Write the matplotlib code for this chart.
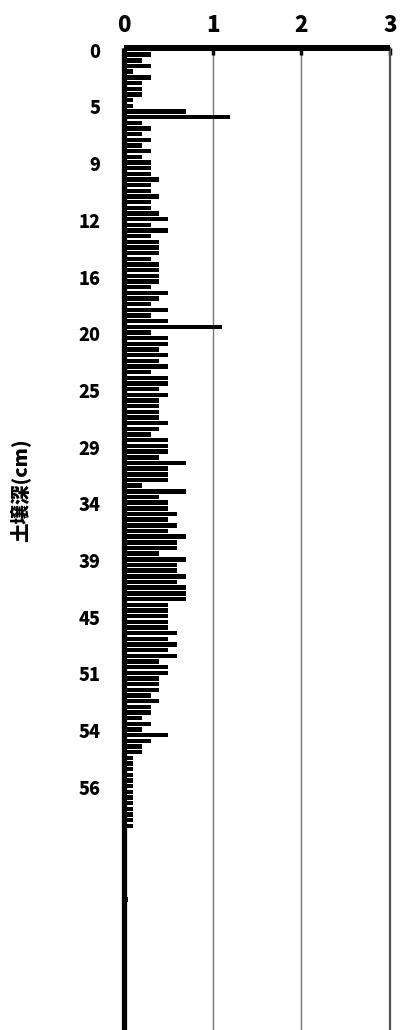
import matplotlib
matplotlib.use("Agg")
import matplotlib.pyplot as plt
import matplotlib.transforms as mtransforms
import numpy as np

plt.rcParams['font.family'] = ['Noto Sans CJK JP', 'DejaVu Sans']

# bar values, one per sample row (top to bottom)
values_a = [0.3, 0.2, 0.3, 0.1, 0.3, 0.2, 0.2, 0.2, 0.1, 0.1, 0.7, 1.2, 0.2, 0.3, 0.2, 0.3,
            0.2, 0.3, 0.2, 0.3, 0.3, 0.3, 0.4, 0.3, 0.3, 0.4]
values_b = [0.3, 0.3, 0.4, 0.5, 0.3, 0.5, 0.3, 0.4, 0.4, 0.4, 0.3, 0.4, 0.4, 0.4, 0.4, 0.3,
            0.5, 0.4, 0.3, 0.5, 0.3, 0.5, 1.1, 0.3, 0.5, 0.5, 0.4]
values_c = [0.5, 0.4, 0.5, 0.3, 0.5, 0.5, 0.4, 0.5, 0.4, 0.4, 0.4, 0.4, 0.5, 0.4, 0.3, 0.5,
            0.5, 0.5, 0.4, 0.7, 0.5, 0.5, 0.5, 0.2, 0.7, 0.4]
values_d = [0.5, 0.5, 0.6, 0.5, 0.6, 0.5, 0.7, 0.6, 0.6, 0.4, 0.7, 0.6, 0.6, 0.7, 0.6, 0.7,
            0.7, 0.7, 0.5, 0.5, 0.5, 0.5, 0.5, 0.6, 0.5, 0.6, 0.5]
values_e = [0.6, 0.4, 0.5, 0.5, 0.4, 0.4, 0.4, 0.3, 0.4, 0.3, 0.3, 0.2, 0.3, 0.2, 0.5, 0.3,
            0.2, 0.2]
values_f = [0.1] * 13
values_g = [0.0] * 12 + [0.05]
values = values_a + values_b + values_c + values_d + values_e + values_f + values_g

# depth labels shown every 10th row
depth_labels = ["0", "5", "9", "12", "16", "20", "25", "29", "34", "39", "45", "51", "54", "56"]
label_step = 10
x_ticks = [0, 1, 2, 3]
ylabel = "土壌深(cm)"

W, H = 402, 1030
fig = plt.figure(figsize=(W / 100, H / 100), dpi=100)
ax = fig.add_axes([124 / W, 0.0, (390 - 124) / W, 1 - 48 / H])

idx = np.arange(len(values))
ax.barh(idx, values, height=0.78, color='black', zorder=3)

ax.set_xlim(0, 3)
ax.set_ylim(172.0, -1.18)

ax.xaxis.tick_top()
ax.set_xticks(x_ticks)
ax.set_xticklabels([str(t) for t in x_ticks], fontsize=16, fontweight='black')
ax.tick_params(axis='x', direction='in', length=5, width=2.5, pad=8, colors='black')

ytick_pos = [i * label_step for i in range(len(depth_labels))]
ax.set_yticks(ytick_pos)
ax.set_yticklabels(depth_labels, fontsize=13, fontweight='black')
ax.tick_params(axis='y', length=0, pad=17)
offset = mtransforms.ScaledTranslation(0, 0.045, fig.dpi_scale_trans)
for lab in ax.get_yticklabels():
    lab.set_transform(lab.get_transform() + offset)

ax.grid(axis='x', color='#777777', linewidth=1.0, zorder=1)
ax.grid(axis='y', visible=False)

ax.spines['top'].set_linewidth(4.3)
ax.spines['left'].set_linewidth(3.8)
ax.spines['right'].set_color('#555555')
ax.spines['right'].set_linewidth(1.6)
ax.spines['bottom'].set_visible(False)
for s in ['top', 'left']:
    ax.spines[s].set_zorder(4)
    ax.spines[s].set_capstyle('butt')

fig.text(20 / W, 1 - 490 / H, ylabel, rotation=90, ha='center', va='center',
         fontsize=14, fontweight='black')

fig.savefig("out.png", dpi=100)
